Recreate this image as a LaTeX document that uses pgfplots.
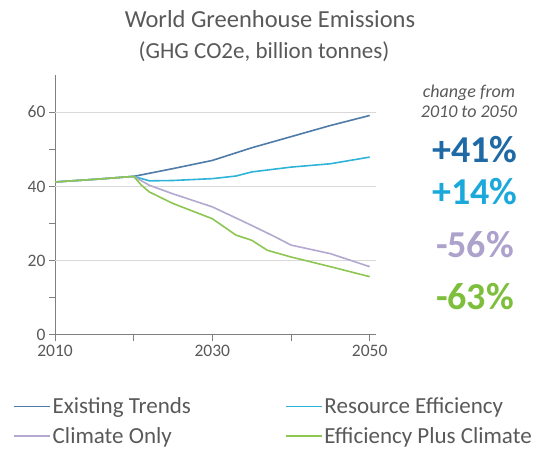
\documentclass[border=0pt]{standalone}
\usepackage{pgfplots}
\pgfplotsset{compat=1.18}
\usepackage{fontspec}
\setmainfont{Carlito}
\definecolor{txtgray}{HTML}{595959}
\definecolor{axgray}{HTML}{7F7F7F}
\definecolor{gridgray}{HTML}{D9D9D9}
\definecolor{cexist}{HTML}{4F7BA8}
\definecolor{cres}{HTML}{2FB3D8}
\definecolor{cclim}{HTML}{B3A8D0}
\definecolor{ceff}{HTML}{8DC650}
\definecolor{pexist}{HTML}{1F6AA5}
\definecolor{pres}{HTML}{1BA9DB}
\definecolor{pclim}{HTML}{ADA2CB}
\definecolor{peff}{HTML}{7DBF3C}
\begin{document}
\begin{tikzpicture}
\path[use as bounding box] (0,0) rectangle (537bp,451bp);
\node[txtgray, font=\fontsize{24.5bp}{30bp}\selectfont] at (270bp,432bp) {World Greenhouse Emissions};
\node[txtgray, font=\fontsize{23bp}{26bp}\selectfont] at (264bp,399bp) {(GHG CO2e, billion tonnes)};
\node[txtgray, font=\fontsize{18bp}{20bp}\selectfont\itshape, align=center] at (469bp,350bp) {change from\\2010 to 2050};
\node[pexist, font=\fontsize{38bp}{40bp}\selectfont\bfseries] at (475bp,301bp) {+41\%};
\node[pres, font=\fontsize{38bp}{40bp}\selectfont\bfseries] at (475bp,259bp) {+14\%};
\node[pclim, font=\fontsize{38bp}{40bp}\selectfont\bfseries] at (475bp,206bp) {-56\%};
\node[peff, font=\fontsize{38bp}{40bp}\selectfont\bfseries] at (475bp,154bp) {-63\%};
\begin{axis}[
  at={(55bp,116bp)}, anchor=south west,
  scale only axis, width=321bp, height=260bp,
  xmin=2010, xmax=2050.8, ymin=0, ymax=70,
  axis x line=bottom, axis y line=left,
  axis line style={-, axgray, line width=1bp},
  xtick={2010,2020,2030,2040,2050},
  xticklabels={2010,,2030,,2050},
  ytick={0,10,20,30,40,50,60},
  yticklabels={0,,20,,40,,60},
  extra y ticks={20,40,60},
  extra y tick labels={},
  extra y tick style={grid=major, major tick length=0pt},
  grid style={gridgray, line width=0.8bp},
  tick align=outside,
  major tick length=6bp,
  tick style={axgray, line width=1bp},
  ticklabel style={txtgray, font=\fontsize{17.5bp}{20bp}\selectfont},
  /pgf/number format/assume math mode=true,
  /pgf/number format/1000 sep={},
  xticklabel style={yshift=-1bp},
  legend style={at={(-0.14,-0.225)}, anchor=north west, draw=none, fill=none,
    font=\fontsize{23bp}{26bp}\selectfont,
    /tikz/every even column/.append style={column sep=92bp},
    row sep=8bp},
  legend columns=2,
  legend cell align=left,
  legend image code/.code={\draw[#1, line width=1.5bp] (0bp,0bp) -- (36bp,0bp);},
  every axis plot/.append style={line width=1.6bp, mark=none},
]
\addplot[cexist] coordinates {(2010,41.2) (2015,41.9) (2020,42.7) (2025,44.8) (2030,47.0) (2035,50.4) (2040,53.4) (2045,56.4) (2050,59.1)};
\addlegendentry{\pgfsetfillcolor{txtgray}Existing Trends}
\addplot[cres] coordinates {(2010,41.2) (2015,41.9) (2020,42.7) (2022,41.5) (2025,41.6) (2030,42.1) (2033,42.8) (2035,43.9) (2040,45.2) (2045,46.1) (2050,47.9)};
\addlegendentry{\pgfsetfillcolor{txtgray}Resource Efficiency}
\addplot[cclim] coordinates {(2010,41.2) (2015,41.9) (2020,42.7) (2022,40.3) (2025,38.0) (2030,34.5) (2035,29.5) (2038,26.4) (2040,24.2) (2045,21.9) (2050,18.4)};
\addlegendentry{\pgfsetfillcolor{txtgray}Climate Only}
\addplot[ceff] coordinates {(2010,41.2) (2015,41.9) (2020,42.7) (2021,40.3) (2022,38.5) (2025,35.4) (2030,31.3) (2033,26.9) (2035,25.5) (2037,22.8) (2040,21.0) (2045,18.4) (2050,15.7)};
\addlegendentry{\pgfsetfillcolor{txtgray}Efficiency Plus Climate}
\end{axis}
\end{tikzpicture}
\end{document}
